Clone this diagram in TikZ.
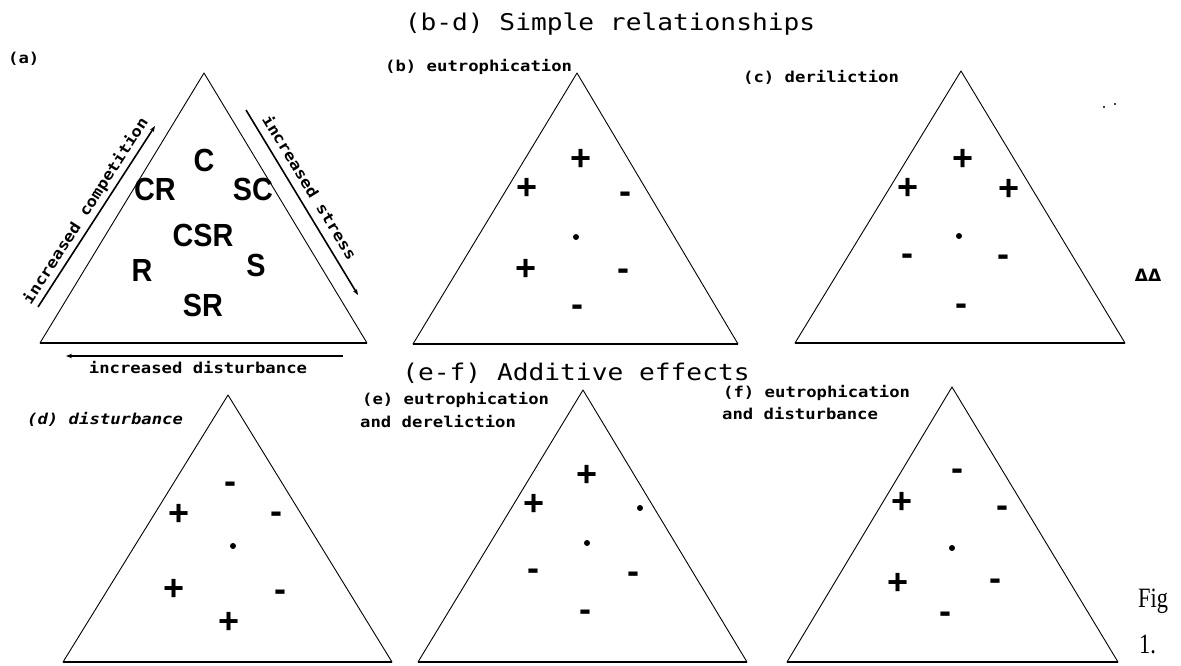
\documentclass[tikz,border=0pt]{standalone}
\usepackage{fontspec}
\usetikzlibrary{arrows.meta}
\newfontfamily\headf[FakeStretch=1.14]{DejaVu Sans Mono}
\newfontfamily\labf[FakeStretch=1.15]{DejaVu Sans Mono}
\newfontfamily\grimef[FakeStretch=0.9]{Liberation Sans}
\newfontfamily\serf[FakeStretch=0.8]{Liberation Serif}
\newfontfamily\symf{Liberation Sans}
\newfontfamily\dvs{DejaVu Sans}
\tikzset{
  tri/.style={draw=black, line width=0.9pt, line join=round},
  base/.style={draw=black, line width=1.6pt},
  arr/.style={draw=black, line width=1.6pt, -{Stealth[length=6pt,width=4.5pt]}},
  head/.style={font=\headf\fontsize{23}{26}\selectfont, inner sep=0pt, anchor=base},
  lab/.style={font=\labf\bfseries\fontsize{15}{17}\selectfont, inner sep=0pt, anchor=base west},
  labc/.style={font=\labf\bfseries\fontsize{15}{17}\selectfont, inner sep=0pt},
  grime/.style={font=\grimef\bfseries\fontsize{32}{34}\selectfont, inner sep=0pt, text height=0.72em, text depth=0pt},
  sym/.style={font=\symf\bfseries\fontsize{36}{38}\selectfont, inner sep=0pt, text height=0.62em, text depth=0pt},
  dotn/.style={circle, fill=black, inner sep=0pt, minimum size=6pt},
  figt/.style={font=\serf\fontsize{28}{30}\selectfont, inner sep=0pt, anchor=base west}
}
\begin{document}
\begin{tikzpicture}[x=1pt,y=-1pt]
\useasboundingbox (0,0) rectangle (1181,665);
% titles
\node[head] (t1) at (610,30) {(b-d) Simple relationships};
\node[head] (t2) at (576,380) {(e-f) Additive effects};
% (a)
\node[lab] (la) at (8,63) {(a)};
\coordinate (aA) at (204,73); \coordinate (aL) at (40,343); \coordinate (aR) at (367,343);
\draw[tri] (aA) -- (aL) -- (aR) -- cycle;
\draw[base] (aL) -- (aR);
\coordinate (cs) at (38,307); \coordinate (ce) at (155,126);
\draw[arr] (cs) -- (ce);
\coordinate (ss) at (246,110); \coordinate (se) at (358,295);
\draw[arr] (ss) -- (se);
\coordinate (ds) at (343,356); \coordinate (de) at (66,356);
\draw[arr] (ds) -- (de);
\node[labc, rotate=57.3] (lc) at (86,211) {increased competition};
\node[labc, rotate=-58.6] (ls) at (310,187) {increased stress};
\node[labc, anchor=base] (ld) at (198,373) {increased disturbance};
\node[grime] (gC) at (204,168) {C};
\node[grime] (gCR) at (155,197) {CR};
\node[grime] (gSC) at (253,197) {SC};
\node[grime] (gCSR) at (203,243) {CSR};
\node[grime] (gR) at (142,278) {R};
\node[grime] (gS) at (256,273) {S};
\node[grime] (gSR) at (203,313) {SR};
% (b)
\node[lab] (lb) at (385,71) {(b) eutrophication};
\coordinate (bA) at (577,73); \coordinate (bL) at (413,344); \coordinate (bR) at (738,344);
\draw[tri] (bA) -- (bL) -- (bR) -- cycle;
\draw[base] (bL) -- (bR);
\node[sym] (b1) at (581,167) {+};
\node[sym] (b2) at (527,196) {+};
\node[sym] (b3) at (625,200) {-};
\node[dotn] (b4) at (576,237) {};
\node[sym] (b5) at (526,277) {+};
\node[sym] (b6) at (623,277) {-};
\node[sym] (b7) at (577,313) {-};
% (c)
\node[lab] (lcc) at (743,82) {(c) deriliction};
\coordinate (cA) at (961,71); \coordinate (cL) at (795,343); \coordinate (cR) at (1125,343);
\draw[tri] (cA) -- (cL) -- (cR) -- cycle;
\draw[base] (cL) -- (cR);
\node[sym] (c1) at (963,167) {+};
\node[sym] (c2) at (908,196) {+};
\node[sym] (c3) at (1009,197) {+};
\node[dotn] (c4) at (959,236) {};
\node[sym] (c5) at (907,262) {-};
\node[sym] (c6) at (1003,263) {-};
\node[sym] (c7) at (961,312) {-};
% stray marks
\fill (1104,107) circle (1.2pt);
\fill (1115,104) circle (1.2pt);
\node[font=\dvs\bfseries\fontsize{17}{18}\selectfont, inner sep=0pt] (mk) at (1148,275) {ΔΔ};
% (d)
\node[lab, font=\labf\bfseries\itshape\fontsize{15}{17}\selectfont] (ldd) at (27,424) {(d) disturbance};
\coordinate (dA) at (228,395); \coordinate (dL) at (63,662); \coordinate (dR) at (392,662);
\draw[tri] (dA) -- (dL) -- (dR) -- cycle;
\draw[base] (dL) -- (dR);
\node[sym] (d1) at (230,490) {-};
\node[sym] (d2) at (179,522) {+};
\node[sym] (d3) at (276,520) {-};
\node[dotn] (d4) at (233,546) {};
\node[sym] (d5) at (174,597) {+};
\node[sym] (d6) at (280,598) {-};
\node[sym] (d7) at (229,630) {+};
% (e)
\node[lab] (le1) at (362,404) {(e) eutrophication};
\node[lab] (le2) at (360,427) {and dereliction};
\coordinate (eA) at (583,390); \coordinate (eL) at (418,662); \coordinate (eR) at (747,662);
\draw[tri] (eA) -- (eL) -- (eR) -- cycle;
\draw[base] (eL) -- (eR);
\node[sym] (e1) at (587,483) {+};
\node[sym] (e2) at (534,512) {+};
\node[dotn] (e3) at (640,508) {};
\node[dotn] (e4) at (587,543) {};
\node[sym] (e5) at (533,577) {-};
\node[sym] (e6) at (633,580) {-};
\node[sym] (e7) at (585,618) {-};
% (f)
\node[lab] (lf1) at (723,397) {(f) eutrophication};
\node[lab] (lf2) at (722,419) {and disturbance};
\coordinate (fA) at (952,387); \coordinate (fL) at (787,662); \coordinate (fR) at (1118,662);
\draw[tri] (fA) -- (fL) -- (fR) -- cycle;
\draw[base] (fL) -- (fR);
\node[sym] (f1) at (957,477) {-};
\node[sym] (f2) at (902,510) {+};
\node[sym] (f3) at (1002,514) {-};
\node[dotn] (f4) at (952,548) {};
\node[sym] (f5) at (898,591) {+};
\node[sym] (f6) at (995,587) {-};
\node[sym] (f7) at (945,620) {-};
% figure caption
\node[figt] (fg) at (1138,607) {Fig};
\node[figt] (fn) at (1139,653) {1.};
\end{tikzpicture}
\end{document}
